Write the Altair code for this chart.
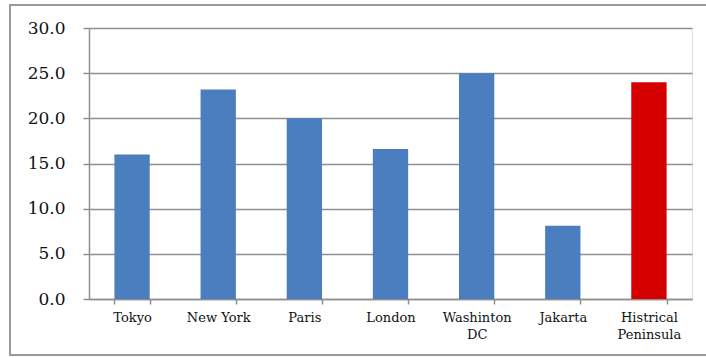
import altair as alt
import pandas as pd

cities = ["Tokyo", "New York", "Paris", "London", "Washinton DC", "Jakarta", "Histrical Peninsula"]
values = [16.0, 23.2, 20.0, 16.6, 25.0, 8.1, 24.0]
colors = ["#4A7EBF", "#4A7EBF", "#4A7EBF", "#4A7EBF", "#4A7EBF", "#4A7EBF", "#D40000"]
y_ticks = [0, 5, 10, 15, 20, 25, 30]

df = pd.DataFrame({"city": cities, "value": values, "color": colors})

FONT = "DejaVu Serif"
GRID = "#8f8f8f"
FRAME = "#9a9a9a"

one = pd.DataFrame({"a": [0]})
frame_top = alt.Chart(one).mark_rule(stroke=FRAME, strokeWidth=2).encode(
    x=alt.value(-80), x2=alt.value(617), y=alt.value(-23)
)
frame_bottom = alt.Chart(one).mark_rule(stroke=FRAME, strokeWidth=2).encode(
    x=alt.value(-80), x2=alt.value(617), y=alt.value(327)
)
frame_left = alt.Chart(one).mark_rule(stroke=FRAME, strokeWidth=2).encode(
    x=alt.value(-79), x2=alt.value(-79), y=alt.value(-24), y2=alt.value(328)
)

label_expr = (
    "datum.value == 'Washinton DC' ? ['Washinton', 'DC'] : "
    "datum.value == 'Histrical Peninsula' ? ['Histrical', 'Peninsula'] : datum.value"
)

bars = alt.Chart(df).mark_bar().encode(
    x=alt.X(
        "city:N",
        sort=cities,
        title=None,
        scale=alt.Scale(paddingInner=0.59, paddingOuter=0.295),
        axis=alt.Axis(
            labelAngle=0,
            labelFont=FONT,
            labelFontSize=13,
            labelColor="#111111",
            labelPadding=7,
            labelLineHeight=17,
            labelExpr=label_expr,
            tickBand="extent",
            tickSize=5,
            tickColor=GRID,
            tickWidth=1.5,
            domainColor=GRID,
            domainWidth=1.5,
            grid=False,
        ),
    ),
    y=alt.Y(
        "value:Q",
        title=None,
        scale=alt.Scale(domain=[0, 30], nice=False),
        axis=alt.Axis(
            values=y_ticks,
            format=".1f",
            labelFont=FONT,
            labelFontSize=17,
            labelColor="#111111",
            labelPadding=18,
            tickSize=6,
            tickColor=GRID,
            tickWidth=1.5,
            domainColor=GRID,
            domainWidth=1.5,
            grid=True,
            gridColor=GRID,
            gridWidth=1.5,
        ),
    ),
    color=alt.Color("color:N", scale=None, legend=None),
)

chart = alt.layer(frame_top, frame_bottom, frame_left, bars).properties(
    width=603,
    height=271,
    autosize=alt.AutoSizeParams(type="none"),
    padding={"left": 89, "top": 28, "right": 14, "bottom": 59},
).configure_view(stroke=None).configure(background="white")

chart.save("out.html", embed_options={"renderer": "svg", "actions": False})
